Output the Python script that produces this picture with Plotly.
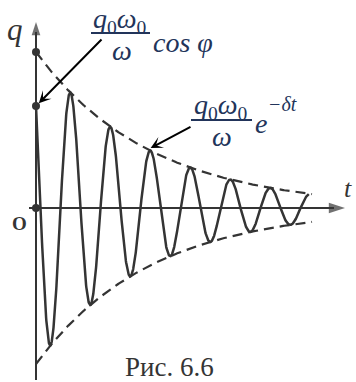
import numpy as np
import plotly.graph_objects as go

# Damped oscillation of charge: q(t) = A e^{-δt} cos(ωt + φ), A = q0·ω0/ω
# time measured in oscillation periods, charge in units of A
amplitude = 1.0        # q0*ω0/ω
delta = 0.35           # damping per period
omega = 2 * np.pi      # one period per time unit
cos_phi = 0.654        # starting value q(0)/A
t_curve_end = 6.82
t_env_end = 6.9
t_pointer = 2.8        # where the envelope label points

phi = np.arccos(cos_phi)
t = np.linspace(0, t_curve_end, 1400)
q = amplitude * np.exp(-delta * t) * np.cos(omega * t + phi)
t_env = np.linspace(0, t_env_end, 300)
env = amplitude * np.exp(-delta * t_env)

# canvas geometry (pixels) and conversion to data coordinates
W, H = 356, 382
X0, Y0 = 36, 208        # origin on the canvas
SX, SY = 40, 156        # pixels per time unit / per unit of q


def tx(px):
    return (px - X0) / SX


def qy(py):
    return (Y0 - py) / SY


INK = "#343434"
FORMULA = "#22345a"
SERIF = "Liberation Serif"

fig = go.Figure()

# axes
fig.add_trace(go.Scatter(x=[0, 0], y=[qy(380), qy(32)], mode="lines",
                         line=dict(color=INK, width=2), hoverinfo="skip"))
fig.add_trace(go.Scatter(x=[tx(29), tx(334)], y=[0, 0], mode="lines",
                         line=dict(color=INK, width=2), hoverinfo="skip"))
fig.add_trace(go.Scatter(x=[0, tx(345)], y=[qy(22), 0], mode="markers",
                         marker=dict(symbol="arrow", size=[14, 17], angle=[0, 90],
                                     color=INK, line=dict(width=0)),
                         hoverinfo="skip"))

# envelopes ±A e^{-δt}
for sgn in (1, -1):
    fig.add_trace(go.Scatter(x=t_env, y=sgn * env, mode="lines",
                             line=dict(color=INK, width=2.2, dash="10px,6px"),
                             hoverinfo="skip"))

# oscillation
fig.add_trace(go.Scatter(x=t, y=q, mode="lines",
                         line=dict(color=INK, width=2.5), hoverinfo="skip"))

# marked points on the q axis: A, A cos φ and the origin
fig.add_trace(go.Scatter(x=[0, 0, 0], y=[amplitude, amplitude * cos_phi, 0],
                         mode="markers", marker=dict(size=8, color=INK),
                         hoverinfo="skip"))


def label(px, py, text, size, color=INK, xanchor="center", family=SERIF):
    fig.add_annotation(x=tx(px), y=qy(py), text=text, showarrow=False,
                       xanchor=xanchor, yanchor="middle",
                       font=dict(family=family, size=size, color=color))


label(15, 29, "<i>q</i>", 31)
label(348, 188, "<i>t</i>", 26)
label(19, 223, "<b>O</b>", 19)
label(169, 367, "Рис. 6.6", 27)

# formula A cos φ
label(120, 20, "<i>q</i><sub>0</sub><i>ω</i><sub>0</sub>", 28, FORMULA)
label(122, 50, "<i>ω</i>", 28, FORMULA)
label(151, 42, "<i>cos φ</i>", 28, FORMULA, xanchor="left")
# formula A e^{-δt}
label(221, 106, "<i>q</i><sub>0</sub><i>ω</i><sub>0</sub>", 28, FORMULA)
label(222, 136, "<i>ω</i>", 28, FORMULA)
label(253, 123, "<i>e</i>", 28, FORMULA, xanchor="left")
label(266, 104, "<i>−δt</i>", 20, FORMULA, xanchor="left")

for x_a, x_b, y_bar in ((91, 150, 33), (191, 252, 120)):
    fig.add_shape(type="line", xref="x", yref="y", x0=tx(x_a), x1=tx(x_b),
                  y0=qy(y_bar), y1=qy(y_bar), line=dict(color=FORMULA, width=2))

# pointers from the formulas to the curve features
fig.add_annotation(x=0, y=amplitude * cos_phi, ax=tx(103), ay=qy(38),
                   axref="x", ayref="y", showarrow=True, arrowhead=3,
                   arrowsize=1, arrowwidth=2, arrowcolor="black", standoff=4, text="")
fig.add_annotation(x=t_pointer, y=amplitude * np.exp(-delta * t_pointer),
                   ax=tx(192), ay=qy(126), axref="x", ayref="y", showarrow=True,
                   arrowhead=3, arrowsize=1, arrowwidth=2, arrowcolor="black",
                   standoff=3, text="")

fig.update_layout(
    width=W, height=H, margin=dict(l=0, r=0, t=0, b=0),
    paper_bgcolor="white", plot_bgcolor="white", showlegend=False,
    xaxis=dict(range=[tx(0), tx(W)], visible=False, fixedrange=True),
    yaxis=dict(range=[qy(H), qy(0)], visible=False, fixedrange=True),
)

fig.write_html("out.html")
